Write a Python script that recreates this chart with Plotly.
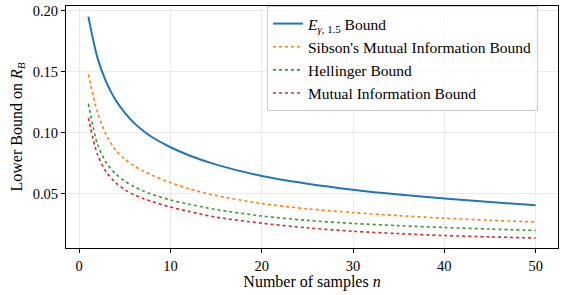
import plotly.graph_objects as go

# sample sizes (anchor points)
n_vals = [1, 2, 3, 4, 5, 6, 7, 8, 10, 12, 15, 20, 25, 30, 35, 40, 45, 50]

e_gamma = [0.1950, 0.1612, 0.1408, 0.1265, 0.1162, 0.1080, 0.1015, 0.0962, 0.0880,
           0.0815, 0.0738, 0.0645, 0.0582, 0.0533, 0.0493, 0.0460, 0.0431, 0.0405]
sibson = [0.1478, 0.1165, 0.0975, 0.0855, 0.0782, 0.0728, 0.0686, 0.0650, 0.0590,
          0.0540, 0.0484, 0.0419, 0.0376, 0.0345, 0.0320, 0.0299, 0.0282, 0.0268]
hellinger = [0.1237, 0.0905, 0.0750, 0.0662, 0.0602, 0.0558, 0.0523, 0.0494, 0.0448,
             0.0414, 0.0370, 0.0317, 0.0281, 0.0256, 0.0238, 0.0223, 0.0210, 0.0199]
mutual_info = [0.1121, 0.0820, 0.0673, 0.0590, 0.0532, 0.0492, 0.0460, 0.0435, 0.0390,
               0.0355, 0.0307, 0.0258, 0.0220, 0.0192, 0.0173, 0.0157, 0.0146, 0.0137]

names = ["<i>E</i><sub><i>γ</i>, 1.5</sub> Bound",
         "Sibson's Mutual Information Bound",
         "Hellinger Bound",
         "Mutual Information Bound"]
colors = ["#1f77b4", "#ff7f0e", "#2ca02c", "#d62728"]
dashes = ["solid", "dot", "dot", "dot"]
series = [e_gamma, sibson, hellinger, mutual_info]

x_ticks = [0, 10, 20, 30, 40, 50]
y_ticks = [0.05, 0.10, 0.15, 0.20]

FONT = "Liberation Serif"

fig = go.Figure()
for name, ys, c, d in zip(names, series, colors, dashes):
    fig.add_trace(go.Scatter(
        x=n_vals, y=ys, mode="lines", name=name,
        line=dict(color=c, width=2.0 if d == "solid" else 1.6, dash=d,
                  shape="spline", smoothing=0.8),
    ))

axis_common = dict(
    showline=True, linecolor="black", linewidth=1.2, mirror=True,
    ticks="outside", ticklen=4, tickwidth=1, tickcolor="black",
    showgrid=True, gridcolor="#ebebeb", gridwidth=1, zeroline=False,
    tickfont=dict(family=FONT, size=14.5, color="black"),
    ticklabeloverflow="allow",
)

fig.update_layout(
    width=565, height=295,
    margin=dict(l=66, r=7, t=3, b=47),
    paper_bgcolor="white", plot_bgcolor="white",
    font=dict(family=FONT, size=16, color="black"),
    showlegend=True,
    legend=dict(
        x=0.4085, y=1.0, xanchor="left", yanchor="top",
        bgcolor="rgba(255,255,255,0.8)", bordercolor="#cccccc", borderwidth=1,
        font=dict(family=FONT, size=15.5, color="black"),
        tracegroupgap=0, itemwidth=30,
    ),
    xaxis=dict(axis_common, range=[-1.45, 52.45], tickvals=x_ticks,
               title=dict(text="Number of samples <i>n</i>", standoff=2,
                          font=dict(family=FONT, size=16))),
    yaxis=dict(axis_common, range=[0.0055, 0.2037], tickvals=y_ticks,
               tickformat=".2f",
               title=dict(text="Lower Bound on <i>R<sub>B</sub></i>", standoff=6,
                          font=dict(family=FONT, size=16))),
)

fig.write_html("out.html",
               config={"displayModeBar": False},
               post_script="document.body.style.margin='0';document.body.style.overflow='hidden';")
